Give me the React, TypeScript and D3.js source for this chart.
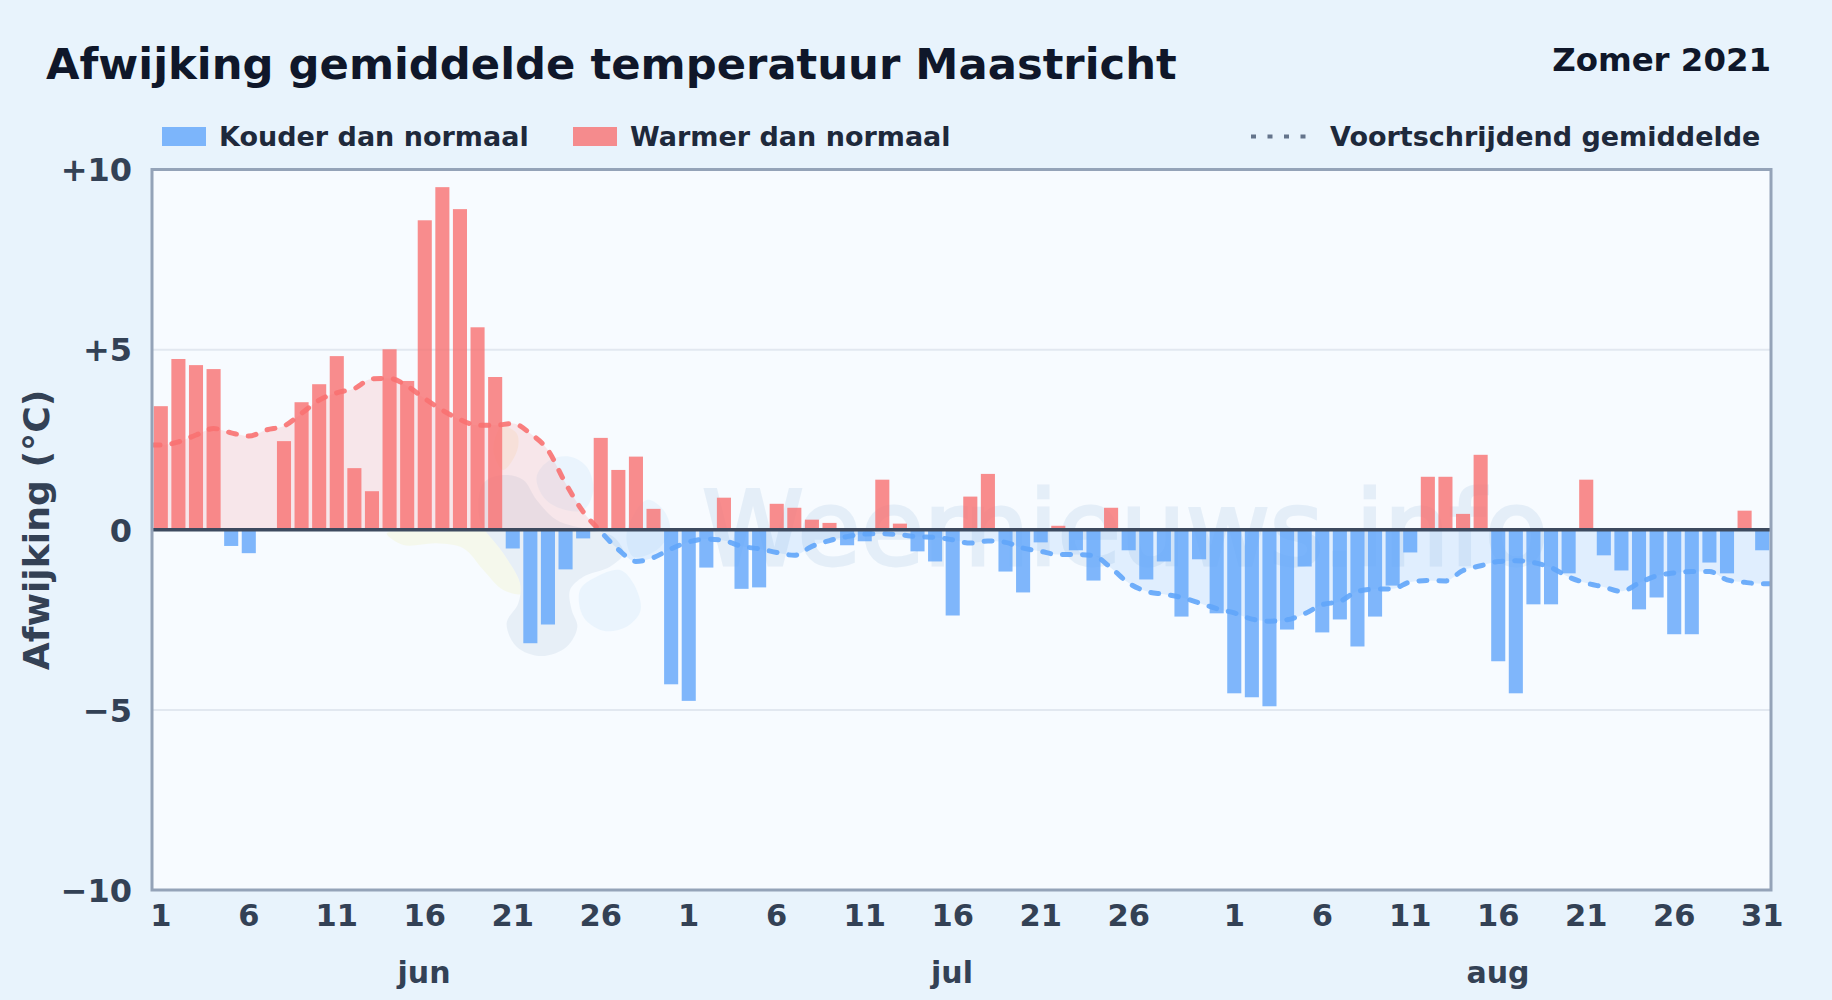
import { useEffect, useRef } from 'react';
import * as d3 from 'd3';

const WIDTH = 1832;
const HEIGHT = 1000;
const FONT = '"DejaVu Sans", sans-serif';

const juneValues = [
  3.43, 4.74, 4.57, 4.46, -0.45, -0.65, 0, 2.46, 3.54, 4.04, 4.82, 1.71, 1.07, 5.01, 4.13,
  8.59, 9.51, 8.9, 5.62, 4.24, -0.52, -3.15, -2.63, -1.1, -0.24, 2.55, 1.66, 2.03, 0.58, -4.29,
];
const julyValues = [
  -4.75, -1.05, 0.89, -1.64, -1.6, 0.72, 0.61, 0.28, 0.19, -0.43, -0.32, 1.39, 0.17, -0.6, -0.88,
  -2.38, 0.92, 1.55, -1.16, -1.74, -0.35, 0.11, -0.57, -1.41, 0.61, -0.57, -1.38, -0.88, -2.41, -0.82, -2.32,
];
const augustValues = [
  -4.54, -4.65, -4.9, -2.77, -1.02, -2.85, -2.49, -3.24, -2.41, -1.55, -0.63, 1.47, 1.47, 0.44, 2.08,
  -3.65, -4.54, -2.07, -2.07, -1.21, 1.39, -0.71, -1.13, -2.21, -1.88, -2.9, -2.9, -0.91, -1.21, 0.53, -0.57,
];
const movingAverage = [
  2.35, 2.44, 2.63, 2.81, 2.69, 2.6, 2.77, 2.88, 3.23, 3.6, 3.8, 3.92, 4.19, 4.2, 3.99, 3.64,
  3.32, 3.06, 2.9, 2.9, 2.95, 2.67, 2.21, 1.29, 0.5, -0.05, -0.55, -0.88, -0.77, -0.53, -0.34, -0.26,
  -0.3, -0.46, -0.53, -0.63, -0.71, -0.46, -0.3, -0.19, -0.12, -0.11, -0.14, -0.19, -0.21, -0.28, -0.37, -0.31,
  -0.35, -0.51, -0.6, -0.69, -0.69, -0.72, -1.06, -1.48, -1.71, -1.79, -1.88, -2.03, -2.19, -2.31, -2.48, -2.54,
  -2.5, -2.33, -2.08, -1.99, -1.71, -1.65, -1.64, -1.45, -1.41, -1.42, -1.13, -1.0, -0.88, -0.86, -0.91, -1.05,
  -1.31, -1.48, -1.59, -1.71, -1.48, -1.28, -1.2, -1.16, -1.16, -1.39, -1.46, -1.5,
];
const yTicks = [10, 5, 0, -5, -10];
const yLabels = ['+10', '+5', '0', '\u22125', '\u221210'];
const dayTicks = [1, 6, 11, 16, 21, 26];
const monthLabels = [
  { name: 'jun', days: juneValues, center: 424 },
  { name: 'jul', days: julyValues, center: 952 },
  { name: 'aug', days: augustValues, center: 1498 },
];

// logo behind the chart, traced in crop coords
const logoBlobs: { fill: string; pts: [number, number][] }[] = [
  { fill: '#f5f7de', pts: [[50, 340], [100, 375], [200, 370], [280, 385], [340, 450], [400, 510], [460, 520], [465, 460], [440, 400], [400, 340], [200, 335]] },
  { fill: '#f8f0de', pts: [[395, 20], [440, 40], [442, 90], [400, 150], [370, 90]] },
  { fill: '#dbe6f2', pts: [[410, 610], [445, 550], [450, 490], [400, 400], [330, 300], [340, 190], [400, 165], [460, 180], [500, 240], [560, 300], [660, 330], [730, 350], [760, 400], [720, 440], [640, 470], [600, 510], [605, 570], [622, 620], [590, 680], [515, 708], [440, 680]] },
  { fill: '#e0f0fd', pts: [[630, 510], [680, 470], [750, 450], [790, 490], [812, 570], [770, 620], [700, 632], [640, 590]] },
  { fill: '#e0f0fd', pts: [[500, 170], [540, 120], [600, 110], [650, 140], [670, 210], [640, 270], [570, 265], [520, 230]] },
  { fill: '#e0f0fd', pts: [[770, 340], [830, 240], [880, 270], [900, 330], [860, 390], [790, 410]] },
];

export default function App() {
  const svgRef = useRef<SVGSVGElement>(null);

  useEffect(() => {
    if (!svgRef.current) return;
    const svg = d3.select(svgRef.current);
    svg.selectAll('*').remove();

    const left = 152;
    const right = 1771;
    const top = 169.5;
    const bottom = 890;

    const values = [...juneValues, ...julyValues, ...augustValues];
    const dayIndex = values.map((_, i) => i);

    const x = d3.scaleBand<number>().domain(dayIndex).range([left, right]).paddingInner(0.2).paddingOuter(0.1);
    const xCenter = (i: number) => (x(i) ?? 0) + x.bandwidth() / 2;
    const y = d3.scaleLinear().domain([-10, 10]).range([bottom, top]);

    svg.append('rect').attr('width', WIDTH).attr('height', HEIGHT).attr('fill', '#e8f3fc');

    // Title and legend
    svg.append('text').attr('x', 46).attr('y', 79).attr('font-size', 43.3).attr('font-weight', 700).attr('fill', '#0f172a').text('Afwijking gemiddelde temperatuur Maastricht');
    svg.append('text').attr('x', 1771).attr('y', 71).attr('text-anchor', 'end').attr('font-size', 32.4).attr('font-weight', 700).attr('fill', '#0f172a').text('Zomer 2021');

    const legendText = (tx: number, label: string) =>
      svg.append('text').attr('x', tx).attr('y', 146).attr('font-size', 27).attr('font-weight', 700).attr('fill', '#1e293b').text(label);
    svg.append('rect').attr('x', 162).attr('y', 127).attr('width', 44).attr('height', 19).attr('fill', '#60a5fa').attr('opacity', 0.8);
    legendText(219, 'Kouder dan normaal');
    svg.append('rect').attr('x', 573).attr('y', 127).attr('width', 44).attr('height', 19).attr('fill', '#f87171').attr('opacity', 0.8);
    legendText(630, 'Warmer dan normaal');
    svg.append('line').attr('x1', 1251).attr('x2', 1308).attr('y1', 136.5).attr('y2', 136.5)
      .attr('stroke', '#64748b').attr('stroke-width', 4).attr('stroke-dasharray', '5 11.5');
    legendText(1330, 'Voortschrijdend gemiddelde');

    // Plot background
    svg.append('rect').attr('x', left).attr('y', top).attr('width', right - left).attr('height', bottom - top).attr('fill', '#f7fbff');

    const plotClip = svg.append('defs');
    plotClip.append('clipPath').attr('id', 'above').append('rect')
      .attr('x', left).attr('y', top).attr('width', right - left).attr('height', y(0) - top);
    plotClip.append('clipPath').attr('id', 'below').append('rect')
      .attr('x', left).attr('y', y(0)).attr('width', right - left).attr('height', bottom - y(0));

    // Watermark
    const blobLine = d3.line<[number, number]>().curve(d3.curveCatmullRomClosed.alpha(0.5));
    const logo = svg.append('g').attr('transform', 'translate(370,420) scale(0.3333)').attr('opacity', 0.55);
    logoBlobs.forEach((b) => {
      logo.append('path').attr('d', blobLine(b.pts)).attr('fill', b.fill);
    });
    svg.append('text').attr('x', 702).attr('y', 565).attr('font-size', 103).attr('textLength', 846)
      .attr('fill', '#dbe8f5').attr('stroke', '#dbe8f5').attr('stroke-width', 3).attr('opacity', 0.65).text('Weernieuws.info');

    // Grid
    g_grid(svg, yTicks.filter((t) => t !== 0 && Math.abs(t) !== 10), y, left, right);

    // Moving average, extended to the plot edges
    const maPoints: [number, number][] = [
      [left, movingAverage[0]],
      ...movingAverage.map((v, i): [number, number] => [xCenter(i), v]),
      [right, movingAverage[movingAverage.length - 1]],
    ];
    const area = d3.area<[number, number]>().x((d) => d[0]).y0(y(0)).y1((d) => y(d[1])).curve(d3.curveMonotoneX);
    const line = d3.line<[number, number]>().x((d) => d[0]).y((d) => y(d[1])).curve(d3.curveMonotoneX);

    svg.append('path').datum(maPoints).attr('d', area).attr('fill', '#f87171').attr('opacity', 0.15).attr('clip-path', 'url(#above)');
    svg.append('path').datum(maPoints).attr('d', area).attr('fill', '#60a5fa').attr('opacity', 0.15).attr('clip-path', 'url(#below)');

    // Bars
    svg.append('g').selectAll('rect').data(values).join('rect')
      .attr('x', (_, i) => x(i) ?? 0)
      .attr('width', x.bandwidth())
      .attr('y', (d) => (d > 0 ? y(d) : y(0)))
      .attr('height', (d) => Math.abs(y(d) - y(0)))
      .attr('fill', (d) => (d > 0 ? '#f87171' : '#60a5fa'))
      .attr('opacity', 0.8);

    [['above', '#f87171'], ['below', '#60a5fa']].forEach(([clip, color]) => {
      svg.append('path').datum(maPoints).attr('d', line).attr('fill', 'none')
        .attr('stroke', color).attr('stroke-width', 5).attr('stroke-linecap', 'round')
        .attr('stroke-dasharray', '8 12').attr('opacity', 0.9)
        .attr('clip-path', `url(#${clip})`);
    });

    // Zero line and frame
    svg.append('line').attr('x1', left).attr('x2', right).attr('y1', y(0)).attr('y2', y(0)).attr('stroke', '#3d4a5f').attr('stroke-width', 3.5);
    svg.append('rect').attr('x', left).attr('y', top).attr('width', right - left).attr('height', bottom - top)
      .attr('fill', 'none').attr('stroke', '#94a3b8').attr('stroke-width', 3);

    // Y axis
    const yAxis = svg.append('g').attr('transform', `translate(${left},1)`)
      .call(d3.axisLeft(y).tickValues(yTicks).tickSize(0).tickPadding(20).tickFormat((_, i) => yLabels[i]));
    yAxis.select('.domain').remove();
    yAxis.selectAll('text').attr('font-size', 32).attr('font-weight', 700).attr('fill', '#334155').attr('font-family', FONT);

    svg.append('text').attr('transform', 'translate(49,530) rotate(-90)').attr('text-anchor', 'middle')
      .attr('font-size', 36.2).attr('font-weight', 700).attr('fill', '#334155').text('Afwijking (\u00b0C)');

    // X axis
    const tickIndex: number[] = [];
    const tickLabels: string[] = [];
    let offset = 0;
    monthLabels.forEach((m) => {
      const ticks = m.name === 'aug' ? [...dayTicks, 31] : dayTicks;
      ticks.forEach((d) => {
        tickIndex.push(offset + d - 1);
        tickLabels.push(String(d));
      });
      offset += m.days.length;
    });
    const xAxis = svg.append('g').attr('transform', `translate(0,${bottom})`)
      .call(d3.axisBottom(x).tickValues(tickIndex).tickSize(0).tickPadding(14).tickFormat((_, i) => tickLabels[i]));
    xAxis.select('.domain').remove();
    xAxis.selectAll('text').attr('font-size', 30.5).attr('font-weight', 700).attr('fill', '#334155').attr('font-family', FONT);

    monthLabels.forEach((m) => {
      svg.append('text').attr('x', m.center).attr('y', 983).attr('text-anchor', 'middle')
        .attr('font-size', 30).attr('font-weight', 700).attr('fill', '#334155').text(m.name);
    });
  }, []);

  return (
    <svg
      ref={svgRef}
      width={WIDTH}
      height={HEIGHT}
      style={{ position: 'absolute', left: 0, top: 0, fontFamily: FONT }}
    />
  );
}

function g_grid(
  svg: d3.Selection<SVGSVGElement, unknown, null, undefined>,
  ticks: number[],
  y: d3.ScaleLinear<number, number>,
  left: number,
  right: number,
) {
  svg.append('g').selectAll('line').data(ticks).join('line')
    .attr('x1', left).attr('x2', right)
    .attr('y1', (d) => y(d)).attr('y2', (d) => y(d))
    .attr('stroke', '#e2e8f0').attr('stroke-width', 2);
}
